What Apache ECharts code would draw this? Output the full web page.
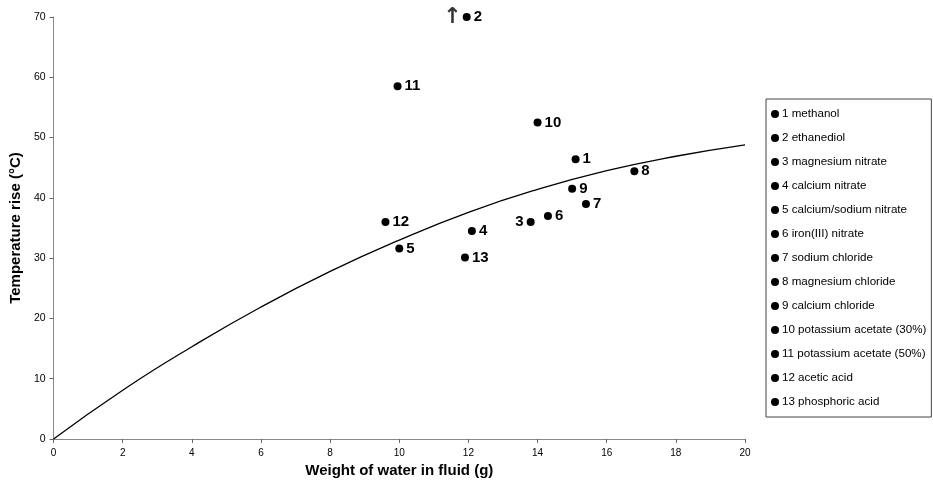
<!DOCTYPE html>
<html>
<head>
<meta charset="utf-8">
<script src="https://cdn.jsdelivr.net/npm/echarts@6/dist/echarts.min.js"></script>
<style>
  body { margin: 0; background: #fff; }
  #myChart { width: 933px; height: 486px; }
</style>
</head>
<body>
<div id="myChart"></div>
<script>
// fluids (numbered as in the legend)
var names = ['methanol', 'ethanediol', 'magnesium nitrate', 'calcium nitrate',
  'calcium/sodium nitrate', 'iron(III) nitrate', 'sodium chloride', 'magnesium chloride',
  'calcium chloride', 'potassium acetate (30%)', 'potassium acetate (50%)',
  'acetic acid', 'phosphoric acid'];
// weight of water in fluid (g)
var water = [15.1, 11.95, 13.8, 12.1, 10.0, 14.3, 15.4, 16.8, 15.0, 14.0, 9.95, 9.6, 11.9];
// temperature rise (°C)
var rise = [46.4, 70, 36.0, 34.5, 31.6, 37.0, 39.0, 44.4, 41.5, 52.5, 58.5, 36.0, 30.1];
// label on the left of the point for these numbers
var leftLabels = [3];

// trend line
var curveX = [0, 2, 4, 6, 8, 10, 12, 14, 16, 18, 20];
var curveY = [0, 8.1, 15.3, 21.9, 27.8, 33.0, 37.6, 41.4, 44.5, 46.9, 48.8];

var font = 'Liberation Sans, Arial, sans-serif';
var series = [];
var legendNames = [];

// one series per fluid so the legend lists them all
for (var i = 0; i < names.length; i++) {
  var num = i + 1;
  var nm = num + ' ' + names[i];
  legendNames.push(nm);
  series.push({
    name: nm,
    type: 'scatter',
    symbol: 'circle',
    symbolSize: 8,
    clip: false,
    itemStyle: { color: '#000', opacity: 1 },
    label: {
      show: true,
      formatter: String(num),
      position: leftLabels.indexOf(num) >= 0 ? 'left' : 'right',
      distance: 3,
      color: '#000',
      fontFamily: font,
      fontWeight: 'bold',
      fontSize: 15
    },
    data: [[water[i], rise[i]]]
  });
}

// arrow next to point 2 (off the scale)
series.push({
  name: 'arrow',
  type: 'scatter',
  symbolSize: 0,
  clip: false,
  silent: true,
  label: {
    show: true,
    formatter: '↑',
    position: 'left',
    distance: 5,
    color: '#000',
    fontFamily: 'DejaVu Sans',
    fontWeight: 'bold',
    fontSize: 22
  },
  data: [[water[1], rise[1]]]
});

// trend line
var curve = [];
for (var j = 0; j < curveX.length; j++) curve.push([curveX[j], curveY[j]]);
series.push({
  name: 'trend',
  type: 'line',
  smooth: true,
  showSymbol: false,
  silent: true,
  lineStyle: { color: '#000', width: 1.3 },
  data: curve,
  z: 1
});

var option = {
  backgroundColor: '#fff',
  animation: false,
  grid: { left: 52, right: 188, top: 17, bottom: 47 },
  legend: {
    data: legendNames,
    orient: 'vertical',
    left: 766,
    top: 99,
    icon: 'circle',
    itemWidth: 8,
    itemHeight: 8,
    itemGap: 10,
    padding: [8, 5, 8, 5],
    borderColor: '#444',
    borderWidth: 1,
    selectedMode: false,
    itemStyle: { opacity: 1 },
    textStyle: { color: '#000', fontFamily: font, fontSize: 11.6, lineHeight: 14, padding: [0, 0, 0, -2] }
  },
  xAxis: {
    type: 'value',
    min: 0,
    max: 20,
    interval: 2,
    name: 'Weight of water in fluid (g)',
    nameLocation: 'middle',
    nameGap: 23,
    nameTextStyle: { color: '#000', fontFamily: font, fontWeight: 'bold', fontSize: 15 },
    axisLine: { lineStyle: { color: '#888', width: 1 } },
    axisTick: { show: true, length: 4, lineStyle: { color: '#666' } },
    axisLabel: { color: '#000', fontFamily: font, fontSize: 10, margin: 9 },
    splitLine: { show: false }
  },
  yAxis: {
    type: 'value',
    min: 0,
    max: 70,
    interval: 10,
    name: 'Temperature rise (°C)',
    nameLocation: 'middle',
    nameGap: 30,
    nameTextStyle: { color: '#000', fontFamily: font, fontWeight: 'bold', fontSize: 15 },
    axisLine: { show: true, lineStyle: { color: '#888', width: 1 } },
    axisTick: { show: true, length: 4, lineStyle: { color: '#666' } },
    axisLabel: { color: '#000', fontFamily: font, fontSize: 10.5, margin: 8 },
    splitLine: { show: false }
  },
  series: series
};

// 初始化并绘制
var myChart = echarts.init(document.getElementById('myChart'), null, { renderer: 'canvas' });
myChart.setOption(option);
</script>
</body>
</html>
